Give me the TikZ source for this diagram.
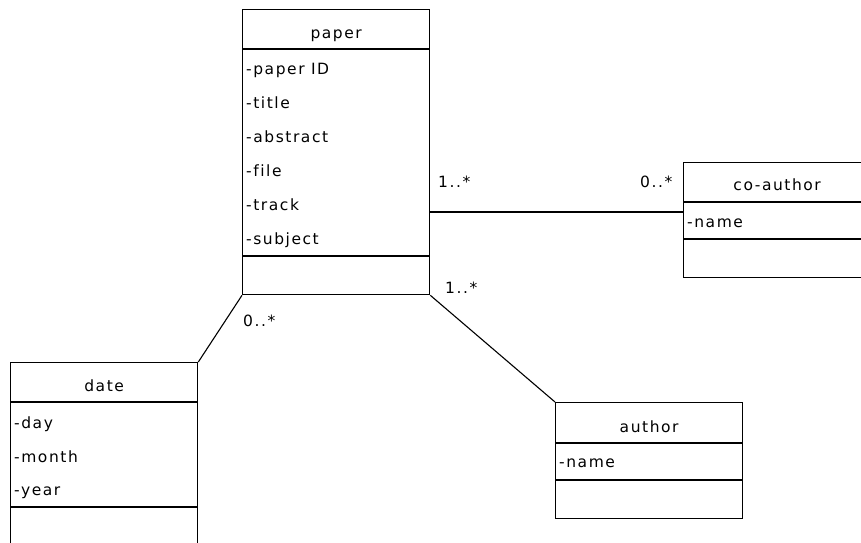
\documentclass[tikz,border=0pt]{standalone}
\usepackage{fontspec}
\setmainfont{DejaVu Sans}[LetterSpace=10, Ligatures=NoCommon]
\usetikzlibrary{calc}

\tikzset{
  umlbox/.style={draw, line width=1.3pt, minimum width=187pt, inner sep=0pt, anchor=north west},
  divider/.style={line width=1.3pt},
  cname/.style={anchor=base, inner sep=0pt},
  attr/.style={anchor=base west, inner sep=0pt},
  mult/.style={anchor=base west, inner sep=0pt},
  assoc/.style={line width=1.1pt},
}

\begin{document}
\begin{tikzpicture}[x=1pt, y=-1pt, font=\fontsize{15.5}{17}\selectfont]
\useasboundingbox (0,0) rectangle (861,542);
\clip (0,0) rectangle (861,542);

% class: paper
\node[umlbox, minimum height=285pt] (paper) at (242,9) {};
\draw[divider] ($(paper.north west)+(0,40)$) -- ($(paper.north east)+(0,40)$);
\draw[divider] ($(paper.north west)+(0,247)$) -- ($(paper.north east)+(0,247)$);
\node[cname] (paper-name) at ($(paper.north)+(0,29)$) {paper};
\node[attr] (paper-a1) at ($(paper.north west)+(4,65)$) {-paper ID};
\node[attr] (paper-a2) at ($(paper.north west)+(4,99)$) {-title};
\node[attr] (paper-a3) at ($(paper.north west)+(4,133)$) {-abstract};
\node[attr] (paper-a4) at ($(paper.north west)+(4,167)$) {-f{}ile};
\node[attr] (paper-a5) at ($(paper.north west)+(4,201)$) {-track};
\node[attr] (paper-a6) at ($(paper.north west)+(4,235)$) {-subject};

% class: co-author
\node[umlbox, minimum height=115pt] (coauthor) at (683,162) {};
\draw[divider] ($(coauthor.north west)+(0,40)$) -- ($(coauthor.north east)+(0,40)$);
\draw[divider] ($(coauthor.north west)+(0,77)$) -- ($(coauthor.north east)+(0,77)$);
\node[cname] (coauthor-name) at ($(coauthor.north)+(0,28)$) {co-author};
\node[attr] (coauthor-a1) at ($(coauthor.north west)+(4,65)$) {-name};
\coordinate (coauthor-port) at ($(coauthor.north west)+(0,50)$);

% class: date
\node[umlbox, minimum height=190pt] (date) at (10,362) {};
\draw[divider] ($(date.north west)+(0,40)$) -- ($(date.north east)+(0,40)$);
\draw[divider] ($(date.north west)+(0,145)$) -- ($(date.north east)+(0,145)$);
\node[cname] (date-name) at ($(date.north)+(0,29)$) {date};
\node[attr] (date-a1) at ($(date.north west)+(4,66)$) {-day};
\node[attr] (date-a2) at ($(date.north west)+(4,100)$) {-month};
\node[attr] (date-a3) at ($(date.north west)+(4,133)$) {-year};

% class: author
\node[umlbox, minimum height=116pt] (author) at (555,402) {};
\draw[divider] ($(author.north west)+(0,41)$) -- ($(author.north east)+(0,41)$);
\draw[divider] ($(author.north west)+(0,78)$) -- ($(author.north east)+(0,78)$);
\node[cname] (author-name) at ($(author.north)+(0,30)$) {author};
\node[attr] (author-a1) at ($(author.north west)+(4,65)$) {-name};

% associations
\draw[assoc] (paper.east |- coauthor-port) -- (coauthor-port);
\draw[assoc] (paper.south west) -- (date.north east);
\draw[assoc] (paper.south east) -- (author.north west);

% multiplicities
\node[mult] (m-paper-co) at (438,187) {1..*};
\node[mult] (m-co) at (640,187) {0..*};
\node[mult] (m-paper-au) at (445,293) {1..*};
\node[mult] (m-date) at (243,326) {0..*};
\end{tikzpicture}
\end{document}
